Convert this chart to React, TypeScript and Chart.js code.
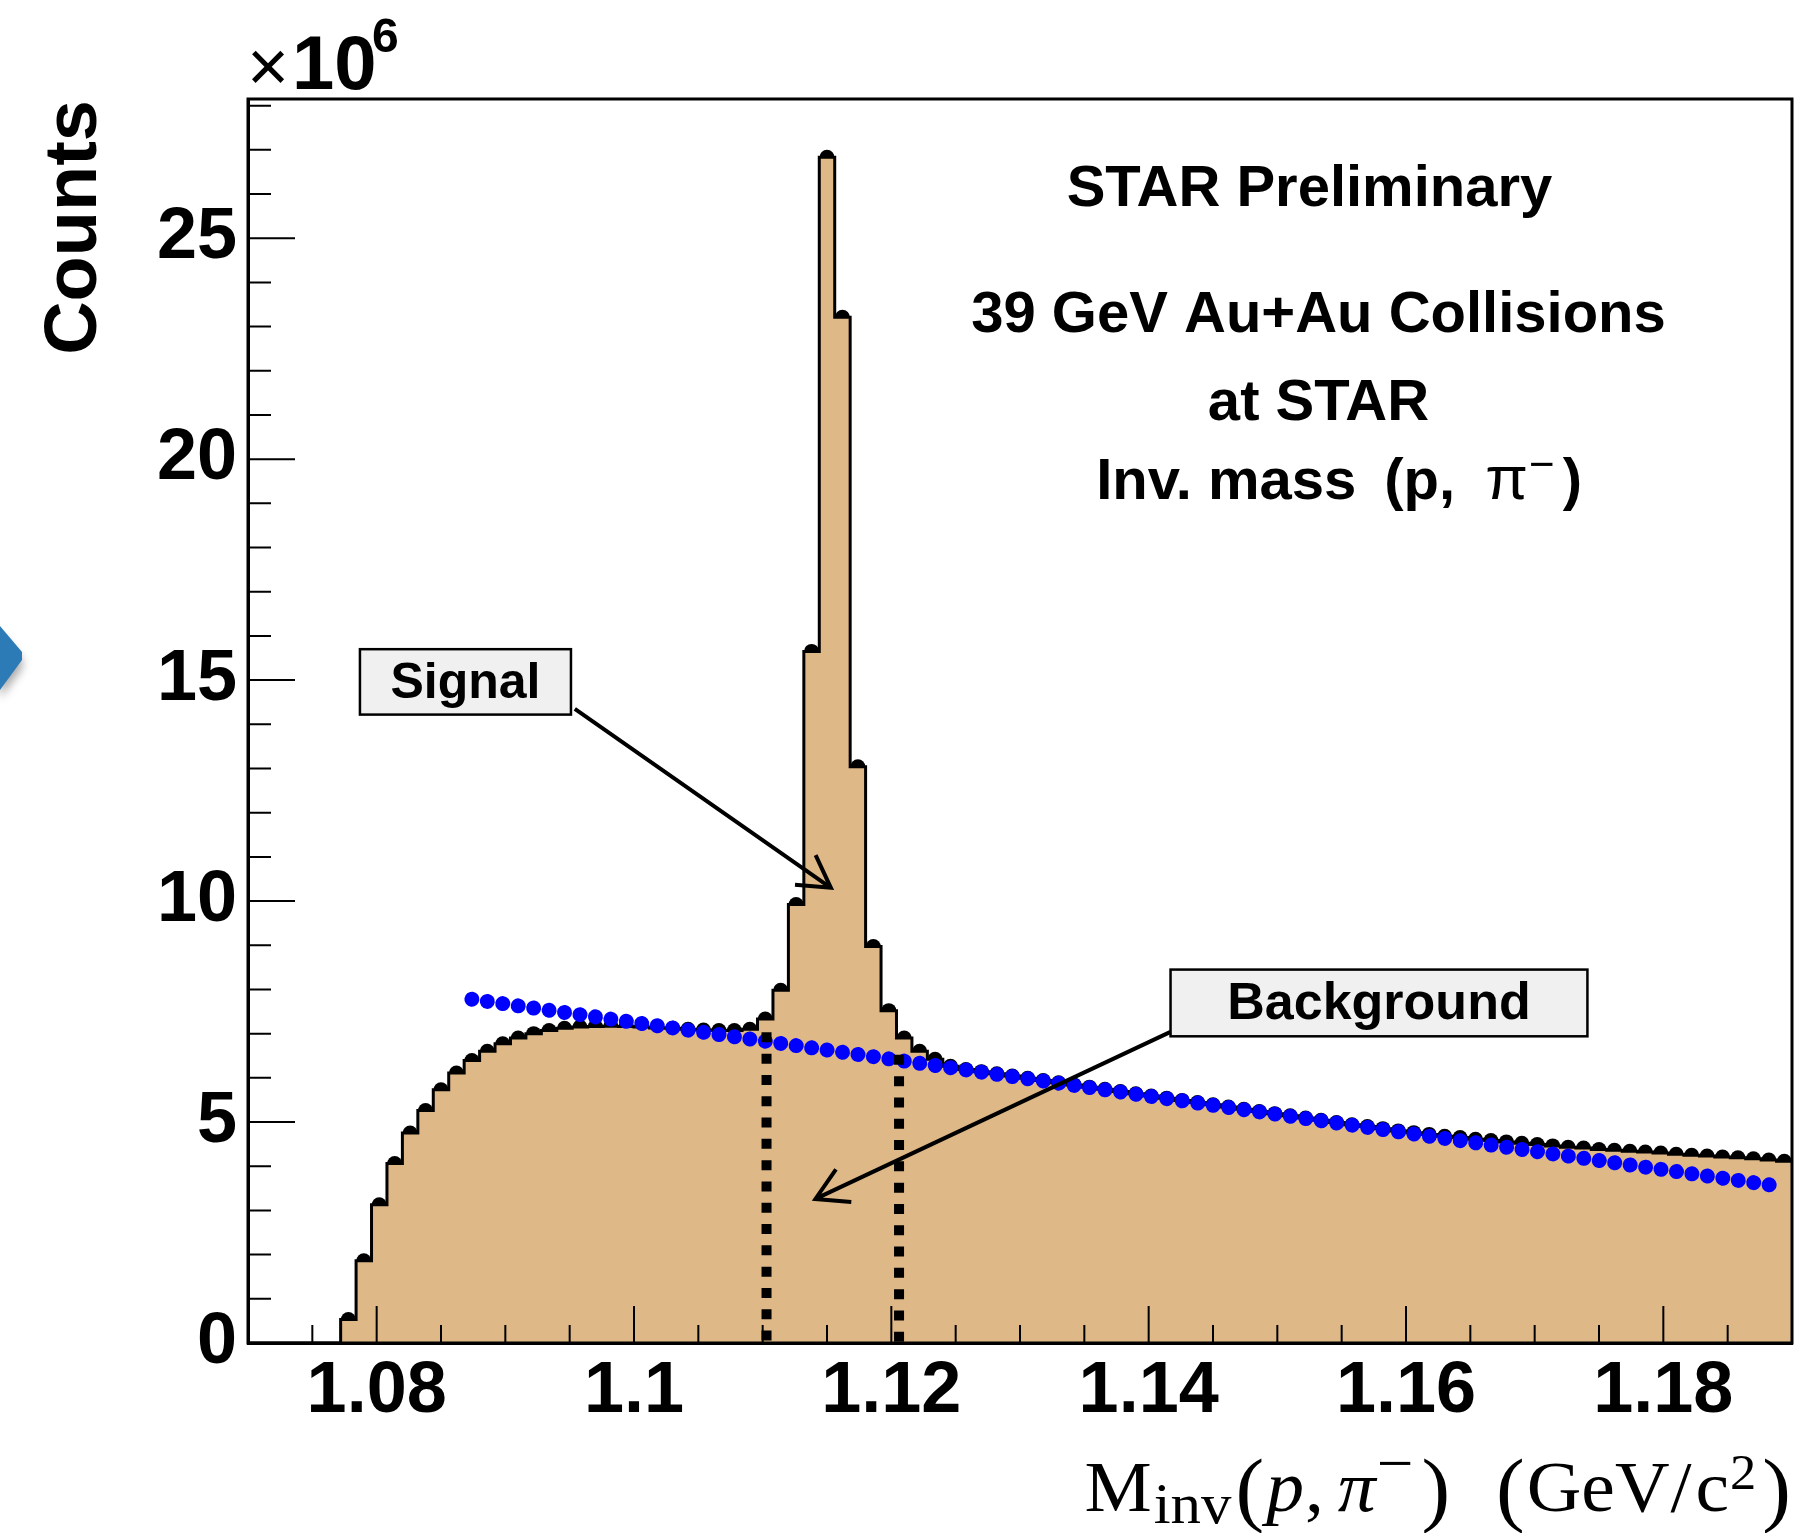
import React, { useEffect, useRef } from 'react';
import { Chart, registerables } from 'chart.js';

Chart.register(...registerables);

// ---------------- data ----------------
// histogram range (GeV/c^2), 100 equal bins
const histRange = [1.07, 1.19];
// counts per bin (x10^6)
const histCounts = [
  0, 0, 0, 0, 0, 0, 0.53, 1.86, 3.13, 4.06,
  4.75, 5.26, 5.73, 6.11, 6.39, 6.6, 6.77, 6.9, 7.0, 7.07,
  7.12, 7.15, 7.16, 7.17, 7.16, 7.15, 7.13, 7.12, 7.1, 7.08,
  7.07, 7.07, 7.1, 7.33, 7.98, 9.92, 15.65, 26.83, 23.21, 13.04,
  8.97, 7.52, 6.9, 6.6, 6.42, 6.26, 6.19, 6.14, 6.09, 6.04,
  5.99, 5.94, 5.89, 5.84, 5.79, 5.74, 5.69, 5.64, 5.59, 5.54,
  5.49, 5.44, 5.39, 5.34, 5.29, 5.24, 5.19, 5.14, 5.09, 5.04,
  4.99, 4.94, 4.9, 4.85, 4.8, 4.76, 4.72, 4.68, 4.65, 4.61,
  4.58, 4.55, 4.52, 4.49, 4.46, 4.43, 4.41, 4.38, 4.36, 4.34,
  4.32, 4.3, 4.27, 4.25, 4.23, 4.21, 4.19, 4.17, 4.14, 4.11,
];
// background fit (straight line), end points
const fitX = [1.0874, 1.1894];
const fitY = [7.78, 3.53];
// signal window cuts
const cutX = [1.1103, 1.1206];
const cutTop = [7.03, 6.52];

const xTickValues = [1.08, 1.1, 1.12, 1.14, 1.16, 1.18];
const xTickLabels = ['1.08', '1.1', '1.12', '1.14', '1.16', '1.18'];
const yTickValues = [0, 5, 10, 15, 20, 25];
const yTickLabels = ['0', '5', '10', '15', '20', '25'];

const infoLines = ['STAR Preliminary', '39 GeV Au+Au Collisions', 'at STAR'];

// ---------------- annotation layout (data coords) ----------------
const signalNote = { text: 'Signal', box: [1.0787, 15.7, 1.0951, 14.22], tail: [1.0954, 14.35], tip: [1.1153, 10.3], size: 50 };
const bgNote = { text: 'Background', box: [1.1417, 8.45, 1.1741, 6.94], tail: [1.1417, 7.04], tip: [1.1141, 3.26], size: 52 };
const infoPos = { x: [1.1525, 1.1532, 1.1532], y: [25.73, 22.88, 20.89] };
const invPos = { x: 1.1548, y: 19.1 };

const SANS = '"Liberation Sans", Arial, Helvetica, sans-serif';
const SERIF = '"Liberation Serif", "Times New Roman", serif';

type Seg = { t: string; font: string; dy?: number; gap?: number };

function drawRich(
  ctx: CanvasRenderingContext2D,
  segs: Seg[],
  x: number,
  y: number,
  align: 'left' | 'center' | 'right',
  sx = 1
) {
  let total = 0;
  const ws = segs.map((s) => {
    ctx.font = s.font;
    const w = ctx.measureText(s.t).width * sx + (s.gap || 0);
    total += w;
    return w;
  });
  let cx = align === 'left' ? x : align === 'center' ? x - total / 2 : x - total;
  ctx.textAlign = 'left';
  ctx.textBaseline = 'alphabetic';
  segs.forEach((s, i) => {
    ctx.font = s.font;
    ctx.save();
    ctx.translate(cx, y + (s.dy || 0));
    ctx.scale(sx, 1);
    ctx.fillText(s.t, 0, 0);
    ctx.restore();
    cx += ws[i];
  });
}

function drawArrow(ctx: CanvasRenderingContext2D, x1: number, y1: number, x2: number, y2: number) {
  const len = 36;
  const ang = Math.PI / 6;
  ctx.beginPath();
  ctx.moveTo(x1, y1);
  ctx.lineTo(x2, y2);
  const a = Math.atan2(y1 - y2, x1 - x2);
  ctx.moveTo(x2 + len * Math.cos(a + ang), y2 + len * Math.sin(a + ang));
  ctx.lineTo(x2, y2);
  ctx.lineTo(x2 + len * Math.cos(a - ang), y2 + len * Math.sin(a - ang));
  ctx.stroke();
}

const overlayPlugin = {
  id: 'rootOverlay',
  afterDatasetsDraw(chart: any) {
    const { ctx, chartArea: ca, scales } = chart;
    const xs = scales.x;
    const ys = scales.y;
    ctx.save();
    ctx.strokeStyle = '#000';
    ctx.lineCap = 'butt';
    // inward tick marks
    ctx.lineWidth = 2;
    ctx.beginPath();
    for (let v = 1; v <= 28; v++) {
      const py = ys.getPixelForValue(v);
      const len = v % 5 === 0 ? 47 : 23;
      ctx.moveTo(ca.left, py);
      ctx.lineTo(ca.left + len, py);
    }
    for (let k = 1; k < 24; k++) {
      const v = 1.07 + k * 0.005;
      const px = xs.getPixelForValue(v);
      const major = k % 4 === 2;
      const len = major ? 37 : 18;
      ctx.moveTo(px, ca.bottom);
      ctx.lineTo(px, ca.bottom - len);
    }
    ctx.stroke();
    // frame
    ctx.lineWidth = 3;
    ctx.strokeRect(ca.left, ca.top, ca.right - ca.left, ca.bottom - ca.top);

    // annotation boxes and arrows
    for (const n of [signalNote, bgNote]) {
      const bx1 = xs.getPixelForValue(n.box[0]);
      const by1 = ys.getPixelForValue(n.box[1]);
      const bx2 = xs.getPixelForValue(n.box[2]);
      const by2 = ys.getPixelForValue(n.box[3]);
      ctx.fillStyle = '#f0f0f0';
      ctx.fillRect(bx1, by1, bx2 - bx1, by2 - by1);
      ctx.lineWidth = 2.5;
      ctx.strokeRect(bx1, by1, bx2 - bx1, by2 - by1);
      ctx.fillStyle = '#000';
      ctx.font = `bold ${n.size}px ${SANS}`;
      ctx.textAlign = 'center';
      ctx.textBaseline = 'alphabetic';
      ctx.fillText(n.text, (bx1 + bx2) / 2, (by1 + by2) / 2 + 16);
      ctx.lineWidth = 4;
      drawArrow(
        ctx,
        xs.getPixelForValue(n.tail[0]),
        ys.getPixelForValue(n.tail[1]),
        xs.getPixelForValue(n.tip[0]),
        ys.getPixelForValue(n.tip[1])
      );
    }
    ctx.restore();
  },
  afterDraw(chart: any) {
    const { ctx, chartArea: ca, scales } = chart;
    const xs = scales.x;
    const ys = scales.y;
    ctx.save();
    ctx.fillStyle = '#000';

    // info text
    ctx.textAlign = 'center';
    ctx.textBaseline = 'alphabetic';
    ctx.font = `bold 58px ${SANS}`;
    infoLines.forEach((t, i) => {
      ctx.fillText(t, xs.getPixelForValue(infoPos.x[i]), ys.getPixelForValue(infoPos.y[i]));
    });
    drawRich(
      ctx,
      [
        { t: 'Inv. mass', font: `bold 58px ${SANS}`, gap: 28 },
        { t: '(p,', font: `bold 58px ${SANS}`, gap: 30 },
        { t: 'π', font: `62px ${SANS}`, gap: 1 },
        { t: '−', font: `44px ${SANS}`, dy: -20, gap: 8 },
        { t: ')', font: `bold 58px ${SANS}` },
      ],
      xs.getPixelForValue(invPos.x),
      ys.getPixelForValue(invPos.y),
      'center'
    );

    // x10^6
    ctx.font = `72px ${SANS}`;
    ctx.textAlign = 'left';
    ctx.fillText('×', ca.left - 1, ca.top - 8);
    ctx.font = `bold 76px ${SANS}`;
    ctx.fillText('10', ca.left + 44, ca.top - 10);
    ctx.font = `bold 48px ${SANS}`;
    ctx.fillText('6', ca.left + 124, ca.top - 47);

    // y title
    ctx.save();
    ctx.translate(96, ca.top + 1);
    ctx.rotate(-Math.PI / 2);
    ctx.font = `bold 74px ${SANS}`;
    ctx.textAlign = 'right';
    ctx.fillText('Counts', 0, 0);
    ctx.restore();

    // x title
    drawRich(
      ctx,
      [
        { t: 'M', font: `72px ${SERIF}`, gap: 2 },
        { t: 'inv', font: `58px ${SERIF}`, dy: 12, gap: 4 },
        { t: '(', font: `82px ${SERIF}`, dy: 5, gap: 2 },
        { t: 'p', font: `italic 72px ${SERIF}`, gap: 1 },
        { t: ',', font: `72px ${SERIF}`, gap: 14 },
        { t: 'π', font: `italic 72px ${SERIF}`, gap: 1 },
        { t: '−', font: `62px ${SERIF}`, dy: -27, gap: 8 },
        { t: ')', font: `82px ${SERIF}`, dy: 5, gap: 46 },
        { t: '(', font: `82px ${SERIF}`, dy: 5, gap: 2 },
        { t: 'GeV', font: `72px ${SERIF}`, gap: 1 },
        { t: '/', font: `72px ${SERIF}`, gap: 4 },
        { t: 'c', font: `72px ${SERIF}`, gap: 1 },
        { t: '2', font: `50px ${SERIF}`, dy: -22, gap: 6 },
        { t: ')', font: `82px ${SERIF}`, dy: 5 },
      ],
      ca.right - 1,
      ca.bottom + 168,
      'right',
      1.05
    );

    // slide decoration at left edge
    ctx.save();
    ctx.shadowColor = 'rgba(0,0,0,0.35)';
    ctx.shadowBlur = 10;
    ctx.shadowOffsetY = 8;
    ctx.fillStyle = '#2c7bb6';
    ctx.beginPath();
    ctx.moveTo(0, 626);
    ctx.lineTo(22, 652);
    ctx.lineTo(22, 660);
    ctx.lineTo(0, 690);
    ctx.closePath();
    ctx.fill();
    ctx.restore();

    ctx.restore();
  },
};

export default function App() {
  const ref = useRef<HTMLCanvasElement>(null);

  useEffect(() => {
    document.body.style.margin = '0';
    document.body.style.overflow = 'hidden';
    const canvas = ref.current;
    if (!canvas) return;

    const [lo, hi] = histRange;
    const bw = (hi - lo) / histCounts.length;
    const stepData = histCounts.map((c, i) => ({ x: lo + i * bw, y: c }));
    stepData.push({ x: hi, y: histCounts[histCounts.length - 1] });
    const markerData = histCounts
      .map((c, i) => ({ x: lo + (i + 0.5) * bw, y: c }))
      .filter((p) => p.y > 0);
    const fitData = fitX.map((x, i) => ({ x, y: fitY[i] }));

    const tickFont = { family: SANS, weight: 'bold' as const, size: 72 };

    const chart = new Chart(canvas, {
      type: 'line',
      data: {
        datasets: [
          {
            label: 'bin markers',
            data: markerData,
            showLine: false,
            pointRadius: 7.5,
            pointHoverRadius: 7.5,
            pointBackgroundColor: '#000',
            pointBorderWidth: 0,
            order: 5,
          },
          {
            label: 'M_inv',
            data: stepData,
            stepped: 'before',
            fill: 'origin',
            backgroundColor: '#deb887',
            borderColor: '#000',
            borderWidth: 3,
            borderJoinStyle: 'miter',
            pointRadius: 0,
            order: 4,
          },
          {
            label: 'background fit',
            data: fitData,
            borderColor: '#0000ff',
            borderWidth: 15,
            borderCapStyle: 'round',
            borderDash: [0.001, 15.6],
            pointRadius: 0,
            fill: false,
            order: 3,
          },
          ...cutX.map((cx, i) => ({
            label: 'cut ' + (i + 1),
            data: [
              { x: cx, y: cutTop[i] },
              { x: cx, y: 0 },
            ],
            borderColor: '#000',
            borderWidth: 10,
            borderCapStyle: 'butt' as const,
            borderDash: [10, 11.3],
            pointRadius: 0,
            fill: false,
            order: 2,
          })),
        ],
      },
      options: {
        animation: false,
        responsive: false,
        devicePixelRatio: 1,
        events: [],
        layout: { padding: { top: 99, right: 16, left: 0, bottom: 0 } },
        plugins: {
          legend: { display: false },
          tooltip: { enabled: false },
          title: { display: false },
        },
        scales: {
          x: {
            type: 'linear',
            position: 'bottom',
            min: histRange[0],
            max: histRange[1],
            afterBuildTicks: (s: any) => {
              s.ticks = xTickValues.map((v) => ({ value: v }));
            },
            afterFit: (s: any) => {
              s.height = 190;
            },
            grid: { display: false, drawTicks: false },
            border: { display: true, color: '#000', width: 3 },
            ticks: {
              autoSkip: false,
              maxRotation: 0,
              minRotation: 0,
              padding: 6,
              color: '#000',
              font: tickFont,
              callback: (_v: any, i: number) => xTickLabels[i],
            },
          },
          y: {
            type: 'linear',
            min: 0,
            max: 28.15,
            afterBuildTicks: (s: any) => {
              s.ticks = yTickValues.map((v) => ({ value: v }));
            },
            afterFit: (s: any) => {
              s.width = 248;
            },
            grid: { display: false, drawTicks: false },
            border: { display: true, color: '#000', width: 3 },
            ticks: {
              autoSkip: false,
              padding: 11,
              color: '#000',
              font: tickFont,
              callback: (_v: any, i: number) => yTickLabels[i],
            },
          },
        },
      } as any,
      plugins: [overlayPlugin],
    });

    return () => chart.destroy();
  }, []);

  return (
    <div style={{ width: 1808, height: 1533, background: '#fff' }}>
      <canvas ref={ref} width={1808} height={1533} style={{ display: 'block' }} />
    </div>
  );
}
